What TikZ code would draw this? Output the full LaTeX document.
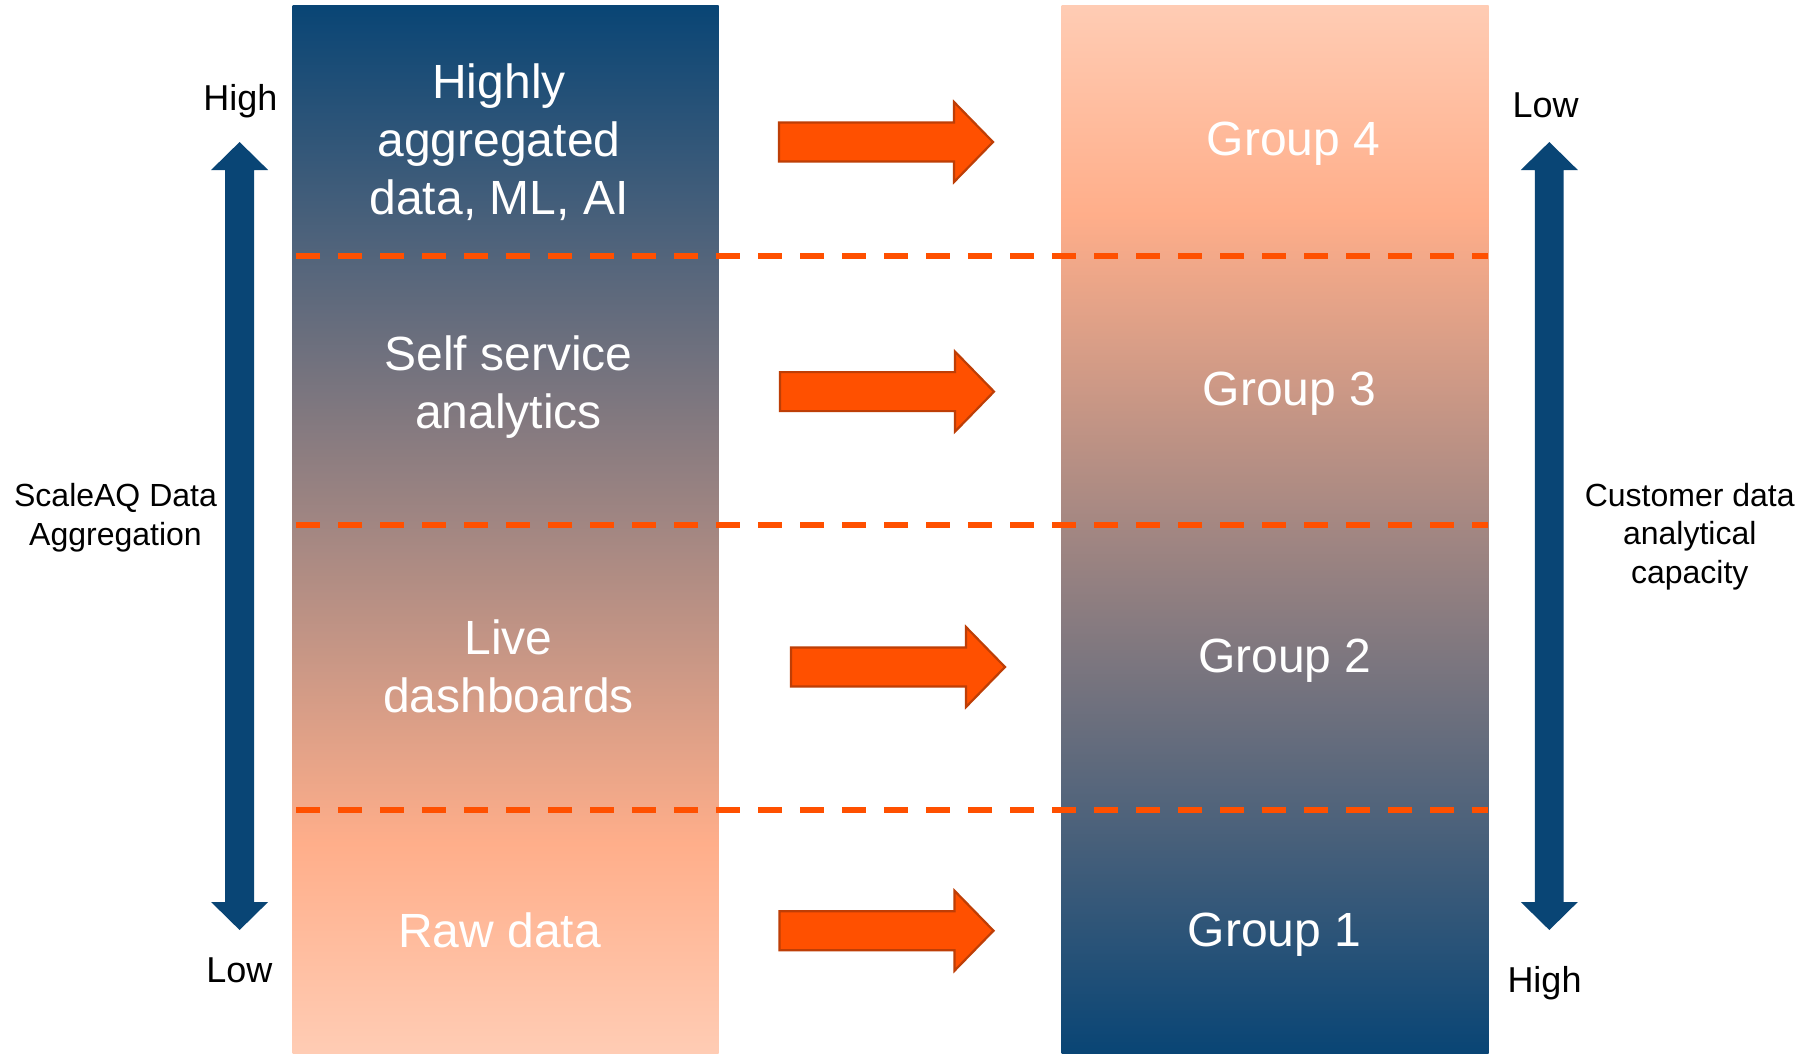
\documentclass[tikz,border=0pt]{standalone}
\usepackage{fontspec}
\setmainfont{Liberation Sans}

\definecolor{navyc}{RGB}{9,69,117}
\definecolor{peach}{RGB}{255,174,138}
\definecolor{peachlt}{RGB}{255,204,180}
\definecolor{flame}{RGB}{255,80,0}
\definecolor{flameedge}{RGB}{190,62,6}

% Shadings: the filled path is mapped onto 25bp..75bp
\pgfdeclareverticalshading{aggshade}{100bp}{color(0bp)=(peachlt); color(25bp)=(peachlt); color(35bp)=(peach); color(75bp)=(navyc); color(100bp)=(navyc)}
\pgfdeclareverticalshading{capshade}{100bp}{color(0bp)=(navyc); color(25bp)=(navyc); color(65bp)=(peach); color(75bp)=(peachlt); color(100bp)=(peachlt)}

\begin{document}
\begin{tikzpicture}[x=1pt,y=-1pt,
  column/.style={inner sep=0pt, outer sep=0pt, draw=none, minimum height=1048pt},
  colhead/.style={text=white, font=\fontsize{48}{58}\selectfont, align=center, inner sep=0pt},
  sidelabel/.style={font=\fontsize{36}{43}\selectfont, inner sep=0pt, anchor=base},
  axisnote/.style={font=\fontsize{32}{38.5}\selectfont, align=center, inner sep=0pt},
  tierline/.style={draw=flame, line width=6pt, dash pattern=on 24pt off 18pt},
  arrowbody/.style={fill=flame, draw=flameedge, line width=2.2pt, line join=miter},
  scalebar/.style={fill=navyc, draw=none},
  pics/blockarrow/.style={code={
    \draw[arrowbody] (-107,-19.5) -- (68,-19.5) -- (68,-40) -- (107,0)
      -- (68,40) -- (68,19.5) -- (-107,19.5) -- cycle;}},
  pics/doublebar/.style={code={
    \fill[scalebar] (0,142) -- (28.5,170) -- (14.4,170) -- (14.4,902) -- (28.5,902)
      -- (0,930) -- (-28.5,902) -- (-14.4,902) -- (-14.4,170) -- (-28.5,170) -- cycle;}}
]
\useasboundingbox[fill=white] (0,0) rectangle (1806,1053);

% the two shaded columns
\node[column, minimum width=426pt, shading=aggshade] (aggcol) at (505.6,529) {};
\node[column, minimum width=427pt, shading=capshade] (capcol) at (1275,529) {};

% dashed tier separators
\coordinate (t1l) at (296,255.7);   \coordinate (t1r) at (1488,255.7);
\coordinate (t2l) at (296,525.2);   \coordinate (t2r) at (1488,525.2);
\coordinate (t3l) at (296,809.7);   \coordinate (t3r) at (1488,809.7);
\draw[tierline] (t1l) -- (t1r);
\draw[tierline] (t2l) -- (t2r);
\draw[tierline] (t3l) -- (t3r);

% tier texts, left column
\node[colhead] (aggfour) at (499,142.6) {Highly\\aggregated\\data, ML, AI};
\node[colhead] (aggthree) at (508.5,387.4) {Self service\\analytics};
\node[colhead] (aggtwo) at (508.5,666.8) {Live\\dashboards};
\node[colhead, anchor=base] (aggone) at (499.5,947.6) {Raw data};

% tier texts, right column
\node[colhead, anchor=base] (capfour) at (1293.5,155) {Group 4};
\node[colhead, anchor=base] (capthree) at (1289.4,405) {Group 3};
\node[colhead, anchor=base] (captwo) at (1284.8,672) {Group 2};
\node[colhead, anchor=base] (capone) at (1274.5,946.5) {Group 1};

% block arrows between the columns
\pic at (886,142) {blockarrow};
\pic at (887,391.6) {blockarrow};
\pic at (898,667) {blockarrow};
\pic at (886.5,930.7) {blockarrow};

% scale bars with their end labels
\pic at (239.6,0) {doublebar};
\pic at (1549.3,0) {doublebar};
\node[sidelabel] (agghigh) at (240.3,110) {High};
\node[sidelabel] (agglow) at (239.3,982) {Low};
\node[sidelabel] (caplow) at (1545.5,117.3) {Low};
\node[sidelabel] (caphigh) at (1544.5,992.3) {High};

% axis descriptions
\node[axisnote] (aggnote) at (115.5,517.7) {ScaleAQ Data\\Aggregation};
\node[axisnote] (capnote) at (1689.7,536.7) {Customer data\\analytical\\capacity};
\end{tikzpicture}
\end{document}
